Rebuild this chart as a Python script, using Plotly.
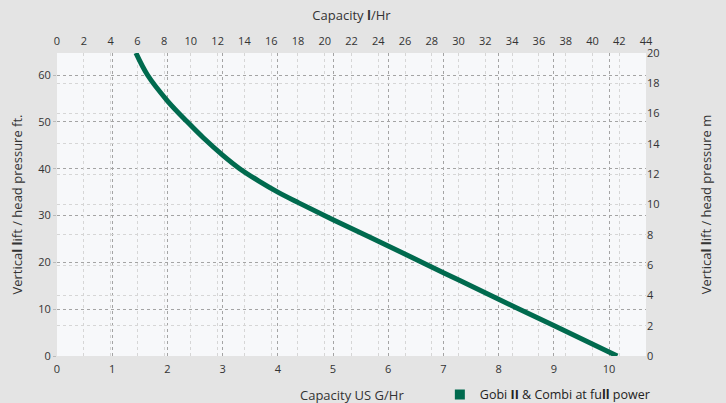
import plotly.graph_objects as go

# Data
capacity_gal = [1.43, 1.64, 2.0, 2.36, 2.65, 3.0, 3.31, 3.65, 4.0, 4.38, 5.0, 6.0, 7.0, 8.0, 9.0, 10.15]
head_ft = [64.7, 60.0, 54.5, 50.0, 46.6, 42.9, 40.0, 37.4, 35.0, 32.7, 29.1, 23.5, 17.8, 12.1, 6.5, 0.0]

gal_ticks = list(range(0, 11))
lhr_ticks = list(range(0, 45, 2))
ft_ticks = list(range(0, 61, 10))
m_ticks = list(range(0, 21, 2))

series_name = "Gobi <b>II</b> &amp; Combi at fu<b>ll</b> power"
green = "#006a4e"
font_family = "Open Sans, Noto Sans, sans-serif"
tick_font = dict(family=font_family, size=11, color="#333333")
title_font = dict(size=13, family=font_family, color="#333333")

fig = go.Figure()
fig.add_trace(go.Scatter(
    x=capacity_gal, y=head_ft, mode="lines",
    line=dict(color=green, width=5, shape="spline", smoothing=1.0),
    showlegend=False, hoverinfo="skip",
))
# legend entry (square marker)
fig.add_trace(go.Scatter(
    x=[None], y=[None], mode="markers", name=series_name,
    marker=dict(symbol="square", size=10, color=green),
))
# invisible traces to activate secondary axes
fig.add_trace(go.Scatter(x=[None], y=[None], xaxis="x2", yaxis="y", showlegend=False))
fig.add_trace(go.Scatter(x=[None], y=[None], xaxis="x", yaxis="y2", showlegend=False))

fig.update_layout(
    width=726, height=403,
    margin=dict(l=57, r=80, t=53, b=47, autoexpand=False),
    paper_bgcolor="#e4e4e4",
    plot_bgcolor="#f7f8fa",
    font=dict(family=font_family, color="#333333"),
    xaxis=dict(
        range=[0, 10.67], tickvals=gal_ticks, tickfont=tick_font,
        showgrid=True, gridcolor="#a4a4a4", griddash="dot", gridwidth=1,
        zeroline=False, showline=False, ticks="", automargin=False,
        ticklabelstandoff=5, fixedrange=True,
    ),
    xaxis2=dict(
        range=[0, 44], tickvals=lhr_ticks, tickfont=tick_font,
        overlaying="x", side="top", anchor="y", automargin=False,
        showgrid=True, gridcolor="#d6d6d6", griddash="dot", gridwidth=1,
        zeroline=False, showline=False, ticks="", ticklabelstandoff=5,
        title=dict(text="Capacity <b>l</b>/Hr", font=title_font, standoff=9),
    ),
    yaxis=dict(
        range=[0, 64.7], tickvals=ft_ticks, tickfont=tick_font, automargin=False,
        showgrid=True, gridcolor="#a4a4a4", griddash="dot", gridwidth=1,
        zeroline=False, showline=False, ticks="outside", ticklen=3, tickcolor="#bbbbbb",
        title=dict(text="Vertica<b>l</b> <b>l</b>ift / head pressure ft.", font=title_font, standoff=12),
    ),
    yaxis2=dict(
        range=[0, 20], tickvals=m_ticks, tickfont=tick_font, automargin=False,
        overlaying="y", side="right", anchor="x",
        showgrid=True, gridcolor="#d6d6d6", griddash="dot", gridwidth=1,
        zeroline=False, showline=False, ticks="",
        title=dict(text="Vertica<b>l</b> <b>l</b>ift / head pressure m", font=title_font, standoff=42),
    ),
    legend=dict(
        orientation="h", x=0.650, xanchor="left", y=-0.128, yanchor="middle",
        bgcolor="rgba(0,0,0,0)", font=dict(size=12.5, family=font_family, color="#222222"),
        itemwidth=30,
    ),
    annotations=[dict(
        text="Capacity US G/Hr", xref="paper", yref="paper",
        x=0.5, y=-0.128, xanchor="center", yanchor="middle",
        showarrow=False, font=title_font,
    )],
)

fig.write_html("out.html", config={"displayModeBar": False},
               post_script="document.body.style.margin='0';")
